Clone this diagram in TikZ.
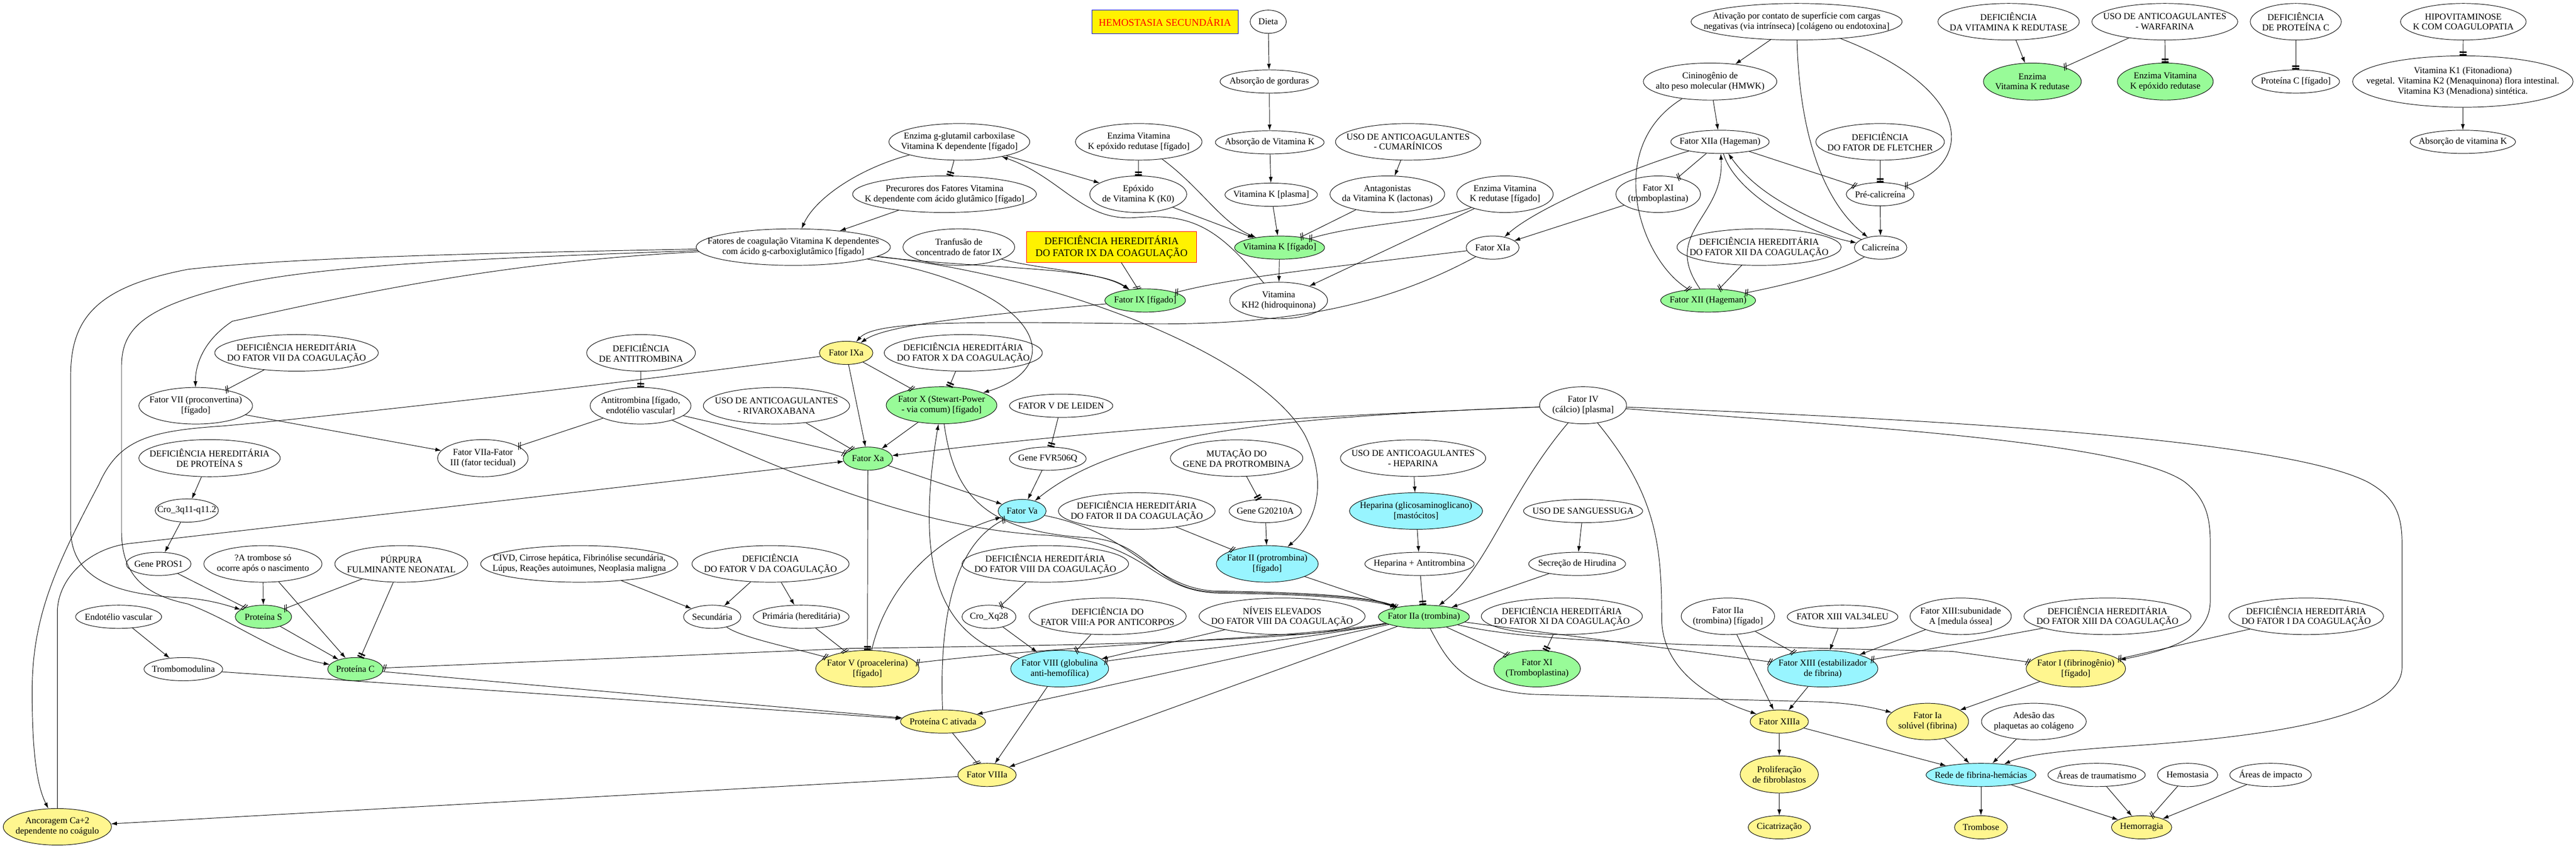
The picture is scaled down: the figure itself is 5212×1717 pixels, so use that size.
\documentclass[tikz,border=0pt]{standalone}
\usepackage{fontspec}
\setmainfont{Liberation Serif}
\usetikzlibrary{arrows.meta,shapes.geometric}
\definecolor{verdeclaro}{RGB}{152,251,152}
\definecolor{amareloclaro}{RGB}{255,246,143}
\definecolor{cianoclaro}{RGB}{152,245,255}
\tikzset{
	fator node/.style = {
		ellipse,
		draw = black,
		line width = 1pt,
		align = center,
		inner xsep = -300pt,
		inner ysep = -60pt
	},
	verde node/.style = {
		fator node,
		fill = verdeclaro
	},
	amarelo node/.style = {
		fator node,
		fill = amareloclaro
	},
	ciano node/.style = {
		fator node,
		fill = cianoclaro
	},
	titulo node/.style = {
		rectangle,
		draw = blue,
		line width = 1pt,
		fill = yellow,
		text = red,
		minimum width = 296pt,
		minimum height = 48pt,
		font = \fontsize{20.5}{24.5}\selectfont
	},
	caixa node/.style = {
		rectangle,
		draw = red,
		line width = 1pt,
		fill = yellow,
		align = center,
		minimum width = 344pt,
		minimum height = 62pt,
		font = \fontsize{20.5}{24.5}\selectfont
	},
	tam/.style 2 args = {
		minimum width = #1pt,
		minimum height = #2pt
	},
	seta edge/.style = {
		line width = 1pt,
		-{Latex[length=12pt,width=8pt]}
	},
	inib edge/.style = {
		line width = 1pt,
		-{Rectangle[length=3pt,width=14pt,sep=2.5pt]Rectangle[length=3pt,width=14pt]}
	},
	bloq edge/.style = {
		line width = 1pt,
		-{Bar[width=14pt,line width=1.3pt,slant=.35,sep=2.5pt]Bar[width=14pt,line width=1.3pt,slant=.35]}
	}
}
\begin{document}
\begin{tikzpicture}[x=1pt, y=-1pt, font=\fontsize{18.3}{20.7}\selectfont]
							\fill [white, use as bounding box] (0,0) rectangle (5212,1717);
							\node at (2357,44)   [titulo node] (titulo) {HEMOSTASIA SECUNDÁRIA};
							\node at (2566,44)   [fator node, tam={73}{47}] (dieta) {Dieta};
							\node at (2568,165)  [fator node, tam={199}{47}] (absGord) {Absorção de gorduras};
							\node at (2569,288)  [fator node, tam={220}{47}] (absVitK) {Absorção de Vitamina K};
							\node at (2572,394)  [fator node, tam={187}{47}] (vitKplasma) {Vitamina K [plasma]};
							\node at (2589,501)  [verde node, tam={182}{47}] (vitKfig) {Vitamina K [fígado]};
							\node at (1941,287)  [fator node, tam={285}{74}] (enzGGC) {Enzima g-glutamil carboxilase\\Vitamina K dependente [fígado]};
							\node at (2304,287)  [fator node, tam={256}{74}] (enzVKER) {Enzima Vitamina\\K epóxido redutase [fígado]};
							\node at (1911,393)  [fator node, tam={372}{74}] (precur) {Precurores dos Fatores Vitamina\\K dependente com ácido glutâmico [fígado]};
							\node at (2303,393)  [fator node, tam={196}{74}] (epox) {Epóxido\\de Vitamina K (K0)};
							\node at (1605,500)  [fator node, tam={393}{74}] (fatVKdep) {Fatores de coagulação Vitamina K dependentes\\com ácido g-carboxiglutâmico [fígado]};
							\node at (1940,500)  [fator node, tam={226}{74}] (tranf) {Tranfusão de\\concentrado de fator IX};
							\node at (2249,500)  [caixa node] (defIXbox) {DEFICIÊNCIA HEREDITÁRIA\\DO FATOR IX DA COAGULAÇÃO};
							\node at (3635,44)   [fator node, tam={427}{74}] (ativ) {Ativação por contato de superfície com cargas\\negativas (via intrínseca) [colágeno ou endotoxina]};
							\node at (3460,165)  [fator node, tam={270}{75}] (cinin) {Cininogênio de\\alto peso molecular (HMWK)};
							\node at (3480,287)  [fator node, tam={199}{47}] (f12a) {Fator XIIa (Hageman)};
							\node at (3804,287)  [fator node, tam={260}{74}] (defFletcher) {DEFICIÊNCIA\\DO FATOR DE FLETCHER};
							\node at (3804,393)  [fator node, tam={137}{47}] (precal) {Pré-calicreína};
							\node at (3805,501)  [fator node, tam={106}{47}] (calic) {Calicreína};
							\node at (3355,393)  [fator node, tam={171}{74}] (f11) {Fator XI\\(tromboplastina)};
							\node at (3020,501)  [fator node, tam={107}{47}] (f11a) {Fator XIa};
							\node at (2807,393)  [fator node, tam={232}{74}] (antag) {Antagonistas\\da Vitamina K (lactonas)};
							\node at (3045,393)  [fator node, tam={195}{74}] (enzVKR) {Enzima Vitamina\\K redutase [fígado]};
							\node at (2849,287)  [fator node, tam={294}{74}] (usoCum) {USO DE ANTICOAGULANTES\\- CUMARÍNICOS};
							\node at (3559,500)  [fator node, tam={332}{74}] (defXII) {DEFICIÊNCIA HEREDITÁRIA\\DO FATOR XII DA COAGULAÇÃO};
							\node at (4064,44)   [fator node, tam={286}{74}] (defVKR) {DEFICIÊNCIA\\DA VITAMINA K REDUTASE};
							\node at (4380,44)   [fator node, tam={295}{74}] (usoWarf) {USO DE ANTICOAGULANTES\\- WARFARINA};
							\node at (4645,44)   [fator node, tam={184}{74}] (defProtC) {DEFICIÊNCIA\\DE PROTEÍNA C};
							\node at (4984,44)   [fator node, tam={254}{74}] (hipovit) {HIPOVITAMINOSE\\K COM COAGULOPATIA};
							\node at (4112,165)  [verde node, tam={198}{75}] (enzVKRg) {Enzima\\Vitamina K redutase};
							\node at (4381,165)  [verde node, tam={194}{75}] (enzVKERg) {Enzima Vitamina\\K epóxido redutase};
							\node at (4645,165)  [fator node, tam={177}{47}] (protCfig) {Proteína C [fígado]};
							\node at (4983,165)  [fator node, tam={446}{104}] (vitK123) {Vitamina K1 (Fitonadiona)\\vegetal. Vitamina K2 (Menaquinona) flora intestinal.\\Vitamina K3 (Menadiona) sintética.};
							\node at (4983,287)  [fator node, tam={213}{47}] (absVitKlow) {Absorção de vitamina K};
							\node at (600,714)   [fator node, tam={331}{74}] (defVII) {DEFICIÊNCIA HEREDITÁRIA\\DO FATOR VII DA COAGULAÇÃO};
							\node at (396,821)   [fator node, tam={230}{74}] (f7) {Fator VII (proconvertina)\\{[fígado]}};
							\node at (1297,714)  [fator node, tam={220}{74}] (defAT) {DEFICIÊNCIA\\DE ANTITROMBINA};
							\node at (1296,821)  [fator node, tam={204}{74}] (antitr) {Antitrombina [fígado,\\endotélio vascular]};
							\node at (977,927)   [fator node, tam={183}{75}] (f7a3) {Fator VIIa-Fator\\III (fator tecidual)};
							\node at (424,927)   [fator node, tam={286}{75}] (defPS) {DEFICIÊNCIA HEREDITÁRIA\\DE PROTEÍNA S};
							\node at (378,1033)  [fator node, tam={128}{47}] (cro3q) {Cro\_3q11-q11.2};
							\node at (321,1141)  [fator node, tam={131}{47}] (pros1) {Gene PROS1};
							\node at (532,1141)  [fator node, tam={239}{74}] (trombNasc) {?A trombose só\\ocorre após o nascimento};
							\node at (812,1141)  [fator node, tam={269}{74}] (purpura) {PÚRPURA\\FULMINANTE NEONATAL};
							\node at (1172,1141) [fator node, tam={399}{74}] (civd) {CIVD, Cirrose hepática, Fibrinólise secundária,\\Lúpus, Reações autoimunes, Neoplasia maligna};
							\node at (533,1248)  [verde node, tam={114}{47}] (protS) {Proteína S};
							\node at (240,1248)  [fator node, tam={174}{47}] (endot) {Endotélio vascular};
							\node at (371,1354)  [fator node, tam={159}{47}] (trombomod) {Trombomodulina};
							\node at (719,1354)  [verde node, tam={112}{47}] (protC) {Proteína C};
							\node at (116,1673)  [amarelo node, tam={219}{74}] (ancor) {Ancoragem Ca+2\\dependente no coágulo};
							\node at (2317,608)  [verde node, tam={163}{47}] (f9fig) {Fator IX [fígado]};
							\node at (2587,608)  [fator node, tam={198}{74}] (vitKH2) {Vitamina\\KH2 (hidroquinona)};
							\node at (1712,714)  [amarelo node, tam={108}{47}] (f9a) {Fator IXa};
							\node at (1949,714)  [fator node, tam={320}{74}] (defX) {DEFICIÊNCIA HEREDITÁRIA\\DO FATOR X DA COAGULAÇÃO};
							\node at (1905,820)  [verde node, tam={224}{75}] (f10) {Fator X (Stewart-Power\\- via comum) [fígado]};
							\node at (1571,821)  [fator node, tam={296}{74}] (usoRiva) {USO DE ANTICOAGULANTES\\- RIVAROXABANA};
							\node at (2147,821)  [fator node, tam={209}{47}] (fVLeiden) {FATOR V DE LEIDEN};
							\node at (1756,928)  [verde node, tam={100}{47}] (f10a) {Fator Xa};
							\node at (2120,928)  [fator node, tam={155}{47}] (geneFV) {Gene FVR506Q};
							\node at (2502,927)  [fator node, tam={268}{74}] (mutProt) {MUTAÇÃO DO\\GENE DA PROTROMBINA};
							\node at (2068,1034) [ciano node, tam={97}{47}] (f5a) {Fator Va};
							\node at (2300,1034) [fator node, tam={317}{74}] (defII) {DEFICIÊNCIA HEREDITÁRIA\\DO FATOR II DA COAGULAÇÃO};
							\node at (2560,1034) [fator node, tam={146}{47}] (geneG) {Gene G20210A};
							\node at (2564,1141) [ciano node, tam={206}{74}] (f2) {Fator II (protrombina)\\{[fígado]}};
							\node at (1559,1141) [fator node, tam={318}{74}] (defV) {DEFICIÊNCIA\\DO FATOR V DA COAGULAÇÃO};
							\node at (2115,1141) [fator node, tam={337}{74}] (defVIII) {DEFICIÊNCIA HEREDITÁRIA\\DO FATOR VIII DA COAGULAÇÃO};
							\node at (1441,1248) [fator node, tam={116}{47}] (secund) {Secundária};
							\node at (1621,1248) [fator node, tam={194}{47}] (primaria) {Primária (hereditária)};
							\node at (2001,1248) [fator node, tam={109}{47}] (croXq) {Cro\_Xq28};
							\node at (2241,1247) [fator node, tam={318}{74}] (defVIIIac) {DEFICIÊNCIA DO\\FATOR VIII:A POR ANTICORPOS};
							\node at (2594,1247) [fator node, tam={336}{74}] (niveis) {NÍVEIS ELEVADOS\\DO FATOR VIII DA COAGULAÇÃO};
							\node at (1755,1353) [amarelo node, tam={209}{74}] (f5) {Fator V (proacelerina)\\{[fígado]}};
							\node at (2144,1353) [ciano node, tam={198}{74}] (f8) {Fator VIII (globulina\\anti-hemofílica)};
							\node at (1908,1460) [amarelo node, tam={172}{47}] (protCat) {Proteína C ativada};
							\node at (1997,1568) [amarelo node, tam={118}{47}] (f8a) {Fator VIIIa};
							\node at (3456,608)  [verde node, tam={192}{47}] (f12) {Fator XII (Hageman)};
							\node at (3203,820)  [fator node, tam={176}{75}] (f4) {Fator IV\\(cálcio) [plasma]};
							\node at (2859,927)  [fator node, tam={294}{74}] (usoHep) {USO DE ANTICOAGULANTES\\- HEPARINA};
							\node at (3203,1034) [fator node, tam={241}{47}] (usoSang) {USO DE SANGUESSUGA};
							\node at (2865,1034) [ciano node, tam={269}{74}] (hep) {Heparina (glicosaminoglicano)\\{[mastócitos]}};
							\node at (2872,1141) [fator node, tam={221}{47}] (hepAT) {Heparina + Antitrombina};
							\node at (3191,1141) [fator node, tam={196}{47}] (secHir) {Secreção de Hirudina};
							\node at (2881,1248) [verde node, tam={184}{47}] (f2a) {Fator IIa (trombina)};
							\node at (3160,1247) [fator node, tam={326}{74}] (defXI) {DEFICIÊNCIA HEREDITÁRIA\\DO FATOR XI DA COAGULAÇÃO};
							\node at (3110,1353) [verde node, tam={175}{74}] (f11g) {Fator XI\\(Tromboplastina)};
							\node at (3496,1247) [fator node, tam={189}{74}] (f2aFig) {Fator IIa\\(trombina) [fígado]};
							\node at (3728,1248) [fator node, tam={224}{47}] (f13val) {FATOR XIII VAL34LEU};
							\node at (3967,1247) [fator node, tam={205}{74}] (f13sub) {Fator XIII:subunidade\\A [medula óssea]};
							\node at (3688,1353) [ciano node, tam={223}{74}] (f13) {Fator XIII (estabilizador\\de fibrina)};
							\node at (3600,1460) [amarelo node, tam={118}{47}] (f13a) {Fator XIIIa};
							\node at (3900,1460) [amarelo node, tam={166}{74}] (f1a) {Fator Ia\\solúvel (fibrina)};
							\node at (3600,1567) [amarelo node, tam={158}{75}] (prolif) {Proliferação\\de fibroblastos};
							\node at (3600,1674) [amarelo node, tam={126}{47}] (cicatr) {Cicatrização};
							\node at (4264,1247) [fator node, tam={338}{74}] (defXIII) {DEFICIÊNCIA HEREDITÁRIA\\DO FATOR XIII DA COAGULAÇÃO};
							\node at (4666,1247) [fator node, tam={313}{74}] (defI) {DEFICIÊNCIA HEREDITÁRIA\\DO FATOR I DA COAGULAÇÃO};
							\node at (4200,1353) [amarelo node, tam={201}{74}] (f1) {Fator I (fibrinogênio)\\{[fígado]}};
							\node at (4115,1460) [fator node, tam={212}{74}] (adesao) {Adesão das\\plaquetas ao colágeno};
							\node at (4008,1568) [ciano node, tam={222}{47}] (rede) {Rede de fibrina-hemácias};
							\node at (4242,1568) [fator node, tam={197}{47}] (areasTr) {Áreas de traumatismo};
							\node at (4426,1568) [fator node, tam={122}{47}] (hemostasia) {Hemostasia};
							\node at (4594,1568) [fator node, tam={165}{47}] (areasImp) {Áreas de impacto};
							\node at (4008,1674) [amarelo node, tam={107}{47}] (tromb) {Trombose};
							\node at (4333,1674) [amarelo node, tam={122}{47}] (hemorr) {Hemorragia};

							\draw [seta edge] (dieta) -- (absGord);
							\draw [seta edge] (absGord) -- (absVitK);
							\draw [seta edge] (absVitK) -- (vitKplasma);
							\draw [seta edge] (vitKplasma) -- (vitKfig);
							\draw [inib edge] (enzGGC) -- (precur);
							\draw [inib edge] (enzVKER) -- (epox);
							\draw [seta edge] (enzGGC) .. controls (1740,340) and (1650,400) .. (fatVKdep);
							\draw [seta edge] (precur) -- (fatVKdep);
							\draw [seta edge] (enzGGC) -- (epox);
							\draw [seta edge] (vitKH2) .. controls (2470,470) and (2420,430) .. (2300,440) .. controls (2190,450) and (2150,360) .. (enzGGC);
							\draw [seta edge] (enzVKER) .. controls (2430,380) and (2470,450) .. (vitKfig);
							\draw [seta edge] (epox) -- (vitKfig);
							\draw [seta edge] (usoCum) -- (antag);
							\draw [bloq edge] (antag) -- (vitKfig);
							\draw [bloq edge] (enzVKR) .. controls (2900,450) and (2760,450) .. (vitKfig);
							\draw [seta edge] (enzVKR) -- (vitKH2);
							\draw [seta edge] (vitKfig) -- (vitKH2);
							\draw [seta edge] (ativ) -- (cinin);
							\draw [seta edge] (cinin) -- (f12a);
							\draw [bloq edge] (cinin) .. controls (3240,300) and (3320,530) .. (f12);
							\draw [seta edge] (ativ) .. controls (3640,250) and (3680,400) .. (calic);
							\draw [bloq edge] (ativ) .. controls (3990,180) and (4000,330) .. (precal);
							\draw [inib edge] (defFletcher) -- (precal);
							\draw [seta edge] (precal) -- (calic);
							\draw [bloq edge] (f12a) -- (f11);
							\draw [seta edge] (f12a) .. controls (3300,340) and (3110,420) .. (f11a);
							\draw [seta edge] (f11) -- (f11a);
							\draw [bloq edge] (f12a) -- (precal);
							\draw [seta edge] (f12a) .. controls (3510,390) and (3650,470) .. (calic);
							\draw [seta edge] (calic) .. controls (3660,440) and (3560,400) .. (f12a);
							\draw [seta edge] (f12) .. controls (3360,470) and (3490,440) .. (f12a);
							\draw [bloq edge] (defXII) -- (f12);
							\draw [bloq edge] (calic) .. controls (3720,550) and (3620,575) .. (f12);
							\draw [bloq edge] (f11a) .. controls (2700,540) and (2500,560) .. (f9fig);
							\draw [seta edge] (f11a) .. controls (2800,620) and (2600,660) .. (2300,655) .. controls (1950,650) and (1770,650) .. (f9a);
							\draw [seta edge] (f9fig) .. controls (1950,640) and (1790,660) .. (f9a);
							\draw [seta edge] (fatVKdep) .. controls (2000,545) and (2220,540) .. (f9fig);
							\draw [seta edge] (tranf) .. controls (2100,545) and (2230,550) .. (f9fig);
							\draw [bloq edge] (defIXbox) -- (f9fig);
							\draw [seta edge] (fatVKdep) .. controls (2100,580) and (2170,740) .. (f10);
							\draw [seta edge] (fatVKdep) .. controls (2150,560) and (2550,720) .. (2640,880) .. controls (2690,980) and (2660,1060) .. (f2);
							\draw [seta edge] (fatVKdep) .. controls (1000,530) and (700,600) .. (470,650) .. controls (410,690) and (395,740) .. (f7);
							\draw [seta edge] (fatVKdep) .. controls (1000,512) and (600,520) .. (380,545) .. controls (200,580) and (143,640) .. (143,760) -- (143,1070) .. controls (143,1180) and (250,1205) .. (380,1210) .. controls (430,1215) and (460,1225) .. (protS);
							\draw [seta edge] (fatVKdep) .. controls (1000,522) and (650,535) .. (470,578) .. controls (300,620) and (246,660) .. (246,740) -- (246,1076) .. controls (246,1170) and (300,1205) .. (380,1222) .. controls (480,1260) and (560,1325) .. (protC);
							\draw [bloq edge] (defVII) -- (f7);
							\draw [seta edge] (f7) -- (f7a3);
							\draw [inib edge] (defAT) -- (antitr);
							\draw [bloq edge] (antitr) -- (f7a3);
							\draw [seta edge] (f9a) .. controls (1300,770) and (700,840) .. (450,862) .. controls (300,872) and (240,890) .. (200,980) .. controls (110,1150) and (65,1250) .. (65,1400) .. controls (65,1550) and (80,1600) .. (ancor);
							\draw [seta edge] (ancor) -- (116,1240) .. controls (116,1170) and (180,1110) .. (260,1100) -- (f10a);
							\draw [seta edge] (f8a) -- (ancor);
							\draw [seta edge] (defPS) -- (cro3q);
							\draw [seta edge] (cro3q) -- (pros1);
							\draw [bloq edge] (pros1) -- (protS);
							\draw [seta edge] (trombNasc) -- (protS);
							\draw [seta edge] (trombNasc) -- (protC);
							\draw [bloq edge] (purpura) -- (protS);
							\draw [inib edge] (purpura) -- (protC);
							\draw [seta edge] (protS) -- (protC);
							\draw [seta edge] (endot) -- (trombomod);
							\draw [seta edge] (trombomod) -- (protCat);
							\draw [seta edge] (protC) -- (protCat);
							\draw [bloq edge] (f2a) .. controls (2600,1300) and (2200,1305) .. (1720,1312) -- (protC);
							\draw [seta edge] (civd) -- (secund);
							\draw [seta edge] (defV) -- (secund);
							\draw [seta edge] (defV) -- (primaria);
							\draw [bloq edge] (secund) .. controls (1500,1290) and (1600,1310) .. (f5);
							\draw [bloq edge] (primaria) -- (f5);
							\draw [inib edge] (f10a) -- (f5);
							\draw [seta edge] (f5) .. controls (1790,1200) and (1880,1090) .. (f5a);
							\draw [bloq edge] (protCat) .. controls (1900,1250) and (1930,1100) .. (f5a);
							\draw [seta edge] (f8) .. controls (1900,1290) and (1850,1150) .. (f10);
							\draw [seta edge] (f10) -- (f10a);
							\draw [seta edge] (f9a) -- (f10a);
							\draw [bloq edge] (f9a) -- (f10);
							\draw [inib edge] (defX) -- (f10);
							\draw [bloq edge] (usoRiva) -- (f10a);
							\draw [bloq edge] (antitr) -- (f10a);
							\draw [seta edge] (f10a) -- (f5a);
							\draw [inib edge] (fVLeiden) -- (geneFV);
							\draw [seta edge] (geneFV) -- (f5a);
							\draw [inib edge] (mutProt) -- (geneG);
							\draw [seta edge] (geneG) -- (f2);
							\draw [bloq edge] (defII) -- (f2);
							\draw [seta edge] (f4) .. controls (2700,840) and (2300,860) .. (f10a);
							\draw [seta edge] (f4) .. controls (2550,845) and (2260,880) .. (f5a);
							\draw [seta edge] (f4) .. controls (3050,1000) and (3010,1150) .. (f2a);
							\draw [seta edge] (f4) .. controls (3350,1000) and (3362,1100) .. (3362,1250) .. controls (3362,1350) and (3450,1410) .. (f13a);
							\draw [seta edge] (f4) .. controls (3700,860) and (4300,890) .. (4420,975) .. controls (4465,1010) and (4472,1050) .. (4472,1100) -- (4472,1215) .. controls (4472,1290) and (4390,1315) .. (f1);
							\draw [seta edge] (f4) .. controls (3800,845) and (4600,880) .. (4790,975) .. controls (4845,1005) and (4860,1040) .. (4860,1100) -- (4860,1350) .. controls (4860,1450) and (4600,1490) .. (4300,1510) .. controls (4150,1520) and (4090,1530) .. (rede);
							\draw [seta edge] (usoHep) -- (hep);
							\draw [seta edge] (hep) -- (hepAT);
							\draw [inib edge] (hepAT) -- (f2a);
							\draw [seta edge] (usoSang) -- (secHir);
							\draw [seta edge] (secHir) -- (f2a);
							\draw [seta edge] (f2) -- (f2a);
							\draw [seta edge] (f5a) .. controls (2300,1080) and (2330,1190) .. (2460,1196) .. controls (2600,1198) and (2760,1203) .. (f2a);
							\draw [bloq edge] (antitr) .. controls (1600,960) and (1850,1065) .. (2100,1082) .. controls (2330,1092) and (2320,1192) .. (2460,1200) .. controls (2600,1202) and (2760,1207) .. (f2a);
							\draw [seta edge] (f10) .. controls (1930,1000) and (1990,1075) .. (2200,1088) .. controls (2330,1095) and (2330,1195) .. (2460,1198) .. controls (2600,1200) and (2760,1205) .. (f2a);
							\draw [bloq edge] (f2a) .. controls (2600,1295) and (2200,1300) .. (f5);
							\draw [bloq edge] (f2a) .. controls (2600,1300) and (2350,1320) .. (f8);
							\draw [seta edge] (niveis) -- (f8);
							\draw [seta edge] (f2a) -- (protCat);
							\draw [seta edge] (f2a) -- (f8a);
							\draw [bloq edge] (defVIII) -- (croXq);
							\draw [seta edge] (croXq) -- (f8);
							\draw [bloq edge] (defVIIIac) -- (f8);
							\draw [seta edge] (f8) -- (f8a);
							\draw [bloq edge] (protCat) -- (f8a);
							\draw [bloq edge] (f2a) -- (f11g);
							\draw [inib edge] (defXI) -- (f11g);
							\draw [bloq edge] (f2a) -- (f13);
							\draw [bloq edge] (f2a) .. controls (3100,1300) and (3400,1305) .. (3950,1318) -- (f1);
							\draw [seta edge] (f2a) .. controls (2930,1340) and (2960,1395) .. (3100,1405) -- (3680,1420) .. controls (3750,1423) and (3790,1432) .. (f1a);
							\draw [bloq edge] (f2aFig) -- (f13);
							\draw [seta edge] (f2aFig) -- (f13a);
							\draw [seta edge] (f13val) -- (f13);
							\draw [seta edge] (f13sub) -- (f13);
							\draw [bloq edge] (defXIII) -- (f13);
							\draw [seta edge] (f13) -- (f13a);
							\draw [seta edge] (f13a) -- (prolif);
							\draw [seta edge] (prolif) -- (cicatr);
							\draw [seta edge] (f13a) -- (rede);
							\draw [bloq edge] (defI) -- (f1);
							\draw [seta edge] (f1) -- (f1a);
							\draw [seta edge] (f1a) -- (rede);
							\draw [seta edge] (adesao) -- (rede);
							\draw [seta edge] (rede) -- (tromb);
							\draw [seta edge] (rede) -- (hemorr);
							\draw [seta edge] (areasTr) -- (hemorr);
							\draw [bloq edge] (hemostasia) -- (hemorr);
							\draw [seta edge] (areasImp) -- (hemorr);
							\draw [seta edge] (defVKR) -- (enzVKRg);
							\draw [bloq edge] (usoWarf) -- (enzVKRg);
							\draw [inib edge] (usoWarf) -- (enzVKERg);
							\draw [inib edge] (defProtC) -- (protCfig);
							\draw [inib edge] (hipovit) -- (vitK123);
							\draw [seta edge] (vitK123) -- (absVitKlow);
						\end{tikzpicture}
\end{document}
